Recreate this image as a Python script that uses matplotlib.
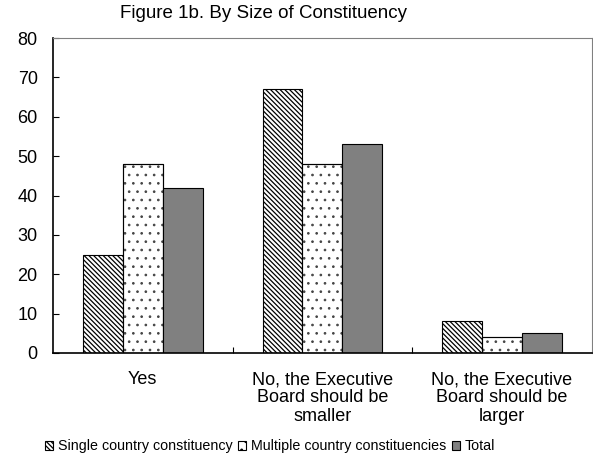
import matplotlib
matplotlib.use("Agg")
import matplotlib.pyplot as plt
import numpy as np

plt.rcParams['font.family'] = ['Liberation Sans', 'DejaVu Sans']
plt.rcParams['hatch.linewidth'] = 0.9

categories = ["Yes", "No, the Executive\nBoard should be\nsmaller", "No, the Executive\nBoard should be\nlarger"]
series_names = ["Single country constituency", "Multiple country constituencies", "Total"]
single = [25, 67, 8]
multiple = [48, 48, 4]
total = [42, 53, 5]

fig = plt.figure(figsize=(5.93, 4.59), dpi=100)
ax = fig.add_axes([0.0894, 0.231, 0.9086, 0.686])

x = np.arange(len(categories))
w = 0.222
ax.bar(x - w, single, w, facecolor='white', edgecolor='black', hatch='\\\\\\\\\\\\\\', linewidth=0.8, label=series_names[0])
dots = ax.bar(x, multiple, w, facecolor='white', edgecolor='#444444', hatch='..', linewidth=0.8, label=series_names[1])
for p in dots.patches:
    try:
        p.set_hatch_linewidth(0.7)
    except AttributeError:
        pass
ax.bar(x, multiple, w, facecolor='none', edgecolor='black', linewidth=0.8)
ax.bar(x + w, total, w, facecolor='#808080', edgecolor='black', linewidth=0.8, label=series_names[2])

ax.set_xlim(-0.5, 2.5)
ax.set_ylim(0, 80)
ax.set_yticks(range(0, 81, 10))
ax.tick_params(axis='y', direction='in', length=4, labelsize=13, pad=11)
ax.set_xticks([0.5, 1.5])
ax.set_xticklabels([])
ax.set_xticks(x, minor=True)
ax.set_xticklabels(categories, minor=True, fontsize=13, linespacing=1.1)
ax.tick_params(axis='x', which='major', direction='in', length=4)
ax.tick_params(axis='x', which='minor', length=0, pad=13)

for s in ['top', 'right']:
    ax.spines[s].set_color('#808080')
for s in ['left', 'bottom']:
    ax.spines[s].set_color('black')
    ax.spines[s].set_linewidth(1.2)

fig.suptitle("Figure 1b. By Size of Constituency", x=0.445, y=0.99, fontsize=13.5)
leg = fig.legend(loc='center', bbox_to_anchor=(0.455, 0.028), ncol=3, frameon=False,
           fontsize=10.3, handlelength=0.6, handleheight=0.6, handletextpad=0.3,
           columnspacing=0.4, borderpad=0)
for h in leg.legend_handles:
    h.set_edgecolor('black')

fig.savefig("out.png", dpi=100)
